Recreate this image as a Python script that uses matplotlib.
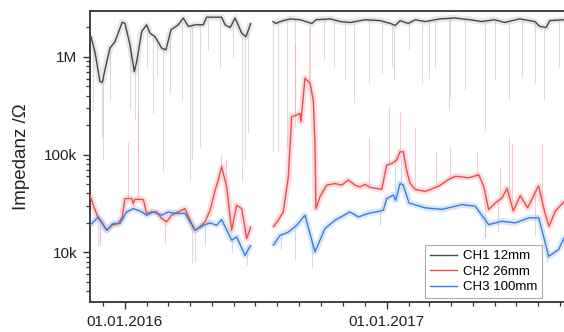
import numpy as np
import matplotlib
matplotlib.use("Agg")
import matplotlib.pyplot as plt
import matplotlib.dates as mdates
from matplotlib.ticker import LogLocator, FixedLocator, FixedFormatter, NullFormatter

# -----------------------------
#  Data (days since 01.01.2016, impedance in Ohm)
# -----------------------------
ch1_days = [-47.5, -42, -35, -31.7, -28, -21, -14, -3.8, 0, 7, 13, 16.4, 23.4, 30.3, 35,
            42, 51.3, 57.3, 64.3, 74.5, 81.5, 88.5, 98, 109.5, 114.3, 135.2, 140, 147,
            154, 163.2, 169.2, 175.8, 190,
            207, 211, 217, 231, 245, 261.5, 267, 287, 301, 315, 336, 357, 371, 378, 385,
            396, 406, 420, 440.5, 461.5, 482.5, 499, 517, 531, 552, 573, 580, 589, 594, 614, 630]
ch1_vals = [1.61e6, 1.13e6, 5.58e5, 5.5e5, 7.37e5, 1.23e6, 1.43e6, 2.27e6, 2.2e6, 1.33e6,
            7.07e5, 8.95e5, 1.82e6, 2.13e6, 1.75e6, 1.61e6, 1.23e6, 1.18e6, 1.89e6, 2.13e6,
            2.5e6, 2.05e6, 2.13e6, 2.13e6, 2.55e6, 2.55e6, 2.13e6, 2.0e6, 2.5e6, 1.75e6,
            1.61e6, 2.2e6, np.nan,
            2.3e6, 2.2e6, 2.3e6, 2.45e6, 2.4e6, 2.2e6, 2.4e6, 2.45e6, 2.3e6, 2.25e6, 2.4e6,
            2.35e6, 2.2e6, 2.1e6, 2.35e6, 2.2e6, 2.4e6, 2.3e6, 2.45e6, 2.5e6, 2.4e6, 2.3e6,
            2.4e6, 2.25e6, 2.45e6, 2.3e6, 2.05e6, 2.0e6, 2.35e6, 2.4e6, 2.4e6]

ch2_days = [-49, -44.3, -37.3, -32.6, -25.6, -18.6, -9.4, -3.8, 0, 9.4, 11.6, 14, 25.6,
            30.3, 37.3, 44.3, 51.3, 58.3, 65.3, 74.5, 84, 91, 98, 105, 112, 119, 126,
            130.5, 135.2, 142.2, 149.2, 156.2, 163.2, 170.2, 175.8, 190,
            207.4, 214.4, 221.4, 228.4, 233.1, 240.1, 244.7, 246.1, 251.7, 258.7, 263.3,
            265.7, 267, 272.7, 282.1, 293.7, 303.1, 312.3, 321.7, 328.6, 335.6, 342.6,
            359, 366, 373, 380, 384.6, 389.2, 393.9, 398.6, 406, 420, 438.7, 452.7, 462,
            480.7, 494.7, 501.6, 508.6, 517.9, 527.2, 534.2, 543, 552.8, 563.1, 578.3,
            587.4, 593, 601.8, 614, 630]
ch2_vals = [38.5e3, 30.3e3, 22.2e3, 20.5e3, 16.8e3, 18.9e3, 19.7e3, 23e3, 35.5e3, 35.5e3,
            31.5e3, 35e3, 34.7e3, 25e3, 25.9e3, 25.9e3, 22.2e3, 20.5e3, 24e3, 25.9e3, 28e3,
            21.3e3, 16.8e3, 18.2e3, 20.5e3, 26.9e3, 43e3, 55e3, 75e3, 46.7e3, 16.8e3,
            30.3e3, 28e3, 13.8e3, 18.2e3, np.nan,
            18.2e3, 21.3e3, 25.9e3, 59e3, 244e3, 254e3, 264e3, 217e3, 605e3, 538e3, 363e3,
            130e3, 28e3, 37e3, 48.7e3, 50.6e3, 48.7e3, 55e3, 48.7e3, 46.7e3, 49.5e3,
            46.3e3, 44.1e3, 78e3, 81e3, 88e3, 107e3, 107e3, 69e3, 50.6e3, 44e3, 42e3,
            47.5e3, 55.7e3, 60e3, 58e3, 62e3, 47.5e3, 27.4e3, 32e3, 36e3, 45e3, 26.5e3,
            38e3, 28.5e3, 48e3, 25e3, 18.5e3, 26.4e3, 33e3, 40e3]

ch3_days = [-49, -37.3, -25.6, -16.4, -7, 2.4, 11.6, 21, 30.3, 39.6, 51.3, 60.6, 70, 84,
            98, 109.5, 119, 128.2, 135.2, 149.2, 156.2, 167.8, 175.8, 190,
            207.4, 216.8, 228.4, 240.1, 251.7, 258.7, 265.7, 279.7, 293.7, 314.7, 326.3,
            340.3, 361.2, 366, 375.3, 378.7, 384.6, 389.2, 397.2, 420, 443.4, 471.3,
            489.9, 508.6, 527.2, 545.8, 564.6, 578.6, 592.5, 606.5, 614, 630]
ch3_vals = [18.9e3, 23e3, 16.8e3, 19.7e3, 19.7e3, 25.9e3, 28e3, 26.5e3, 24e3, 25.9e3,
            24e3, 25.9e3, 25e3, 25e3, 16.8e3, 18.9e3, 20e3, 18.9e3, 21.6e3, 13.3e3,
            14.4e3, 9.3e3, 11.8e3, np.nan,
            11.8e3, 14.9e3, 16.1e3, 18.9e3, 24e3, 15.5e3, 10.1e3, 17.5e3, 21.3e3, 25.9e3,
            23e3, 25e3, 26.9e3, 35.5e3, 38.5e3, 34e3, 50.6e3, 48.7e3, 32e3, 28.5e3,
            27.5e3, 30.8e3, 29.6e3, 19.2e3, 20.8e3, 20e3, 22.5e3, 22.5e3, 9.1e3, 10.7e3,
            14e3, 19e3]

# single raw excursions (day, tip value)
ch1_spike_days = [-44.3, -32.6, -30.3, -21, 7, 14, 18.6, 30.3, 39, 44.3, 53, 63, 79.3,
                  91, 93.3, 105, 116.5, 133, 151.5, 164, 168, 172.5,
                  207.4, 214.4, 226.6, 238, 259, 278, 292, 308, 320, 341, 359, 373.4,
                  375.8, 396.7, 415, 425, 434, 452.7, 455, 476, 504, 518, 536.6, 555,
                  574, 585.5, 606.5]
ch1_spike_vals = [286e3, 151e3, 88e3, 362e3, 286e3, 226e3, 104e3, 789e3, 265e3, 623e3,
                  66e3, 427e3, 362e3, 55e3, 88e3, 119e3, 1.17e6, 789e3, 1.0e6, 52e3,
                  88e3, 166e3,
                  110e3, 110e3, 119e3, 191e3, 362e3, 930e3, 789e3, 580e3, 337e3, 540e3,
                  685e3, 789e3, 580e3, 1.17e6, 540e3, 600e3, 789e3, 286e3, 389e3, 458e3,
                  178e3, 580e3, 362e3, 623e3, 540e3, 362e3, 789e3]

ch2_spike_days = [-38, -35, 4.2, 18.2, 56, 94, 134, 141, 238, 257, 341, 369, 384.6, 406,
                  435, 454, 491.7, 503.5, 522, 525, 537, 541.7, 573, 583]
ch2_spike_vals = [11.5e3, 12e3, 134e3, 286e3, 12.4e3, 7.7e3, 98e3, 90e3, 1.4e6, 2.0e6,
                  150e3, 306e3, 270e3, 190e3, 110e3, 120e3, 110e3, 14e3, 16e3, 74e3,
                  150e3, 130e3, 15e3, 130e3]

ch3_spike_days = [-35, 98, 112, 150, 170, 218, 238, 261.5, 356, 378, 386, 503.5, 590]
ch3_spike_vals = [13e3, 7.9e3, 12e3, 10e3, 7.4e3, 10.5e3, 8.3e3, 7.1e3, 19e3, 100e3,
                  90e3, 14e3, 7.7e3]

labels = ["CH1 12mm", "CH2 26mm", "CH3 100mm"]
dark_colors = ["#474747", "#ef4a4e", "#3c7ddc"]
light_colors = ["#c4c4c4", "#f7aaad", "#9cc6f3"]

t0 = mdates.date2num(np.datetime64("2016-01-01"))


def to_x(days):
    return t0 + np.asarray(days, dtype=float)


def spike_base(days, ser_days, ser_vals):
    d = np.asarray(ser_days, dtype=float)
    v = np.log10(np.asarray(ser_vals, dtype=float))
    ok = ~np.isnan(v)
    return 10 ** np.interp(days, d[ok], v[ok])


# -----------------------------
#  Plot
# -----------------------------
plt.rcParams["font.family"] = ["Liberation Sans", "DejaVu Sans"]

fig = plt.figure(figsize=(5.64, 3.32), dpi=100)
ax = fig.add_axes([89.5 / 564, 1 - 302 / 332, (575 - 89.5) / 564, (302 - 11) / 332])

series = [(ch1_days, ch1_vals, ch1_spike_days, ch1_spike_vals),
          (ch2_days, ch2_vals, ch2_spike_days, ch2_spike_vals),
          (ch3_days, ch3_vals, ch3_spike_days, ch3_spike_vals)]

# raw traces (light)
for (d, v, sd, sv), lc in zip(series, light_colors):
    ax.plot(to_x(d), v, color=lc, lw=4.5, alpha=0.4, solid_capstyle="butt", zorder=1)
    base = spike_base(sd, d, v)
    ax.vlines(to_x(sd), np.minimum(base, sv), np.maximum(base, sv),
              color=lc, lw=0.8, alpha=0.6, zorder=1)

# smoothed traces
for (d, v, sd, sv), dc, lab in zip(series, dark_colors, labels):
    ax.plot(to_x(d), v, color=dc, lw=1.0, label=lab, zorder=3)

ax.set_yscale("log")
ax.set_ylim(3.1e3, 2.95e6)
ax.set_xlim(t0 - 49.6, t0 + 629.3)

ax.yaxis.set_major_locator(FixedLocator([1e4, 1e5, 1e6]))
ax.yaxis.set_major_formatter(FixedFormatter(["10k", "100k", "1M"]))
ax.yaxis.set_minor_locator(LogLocator(base=10, subs=np.arange(2, 10), numticks=20))
ax.yaxis.set_minor_formatter(NullFormatter())

ax.xaxis.set_major_locator(mdates.YearLocator(month=1, day=1))
ax.xaxis.set_major_formatter(mdates.DateFormatter("%d.%m.%Y"))
ax.xaxis.set_minor_locator(mdates.MonthLocator())

ax.tick_params(which="major", direction="out", length=5, width=1.0, labelsize=11,
               pad=4, color="#333333", labelcolor="#222222")
ax.tick_params(which="minor", direction="out", length=3, width=0.9, color="#333333")

for side in ["top", "left", "bottom"]:
    ax.spines[side].set_linewidth(1.3)
    ax.spines[side].set_color("#333333")
ax.spines["right"].set_visible(False)

ax.set_ylabel("Impedanz /\u03a9", fontsize=13.5, labelpad=10, color="#222222")

leg = ax.legend(loc="lower left", bbox_to_anchor=(425 / 564, 1 - 298 / 332),
                bbox_transform=fig.transFigure, fontsize=9.5, frameon=True,
                fancybox=False, handlelength=2.1, handletextpad=0.4,
                borderpad=0.35, labelspacing=0.25, borderaxespad=0)
leg.get_frame().set_edgecolor("#9a9a9a")
leg.get_frame().set_linewidth(0.8)

fig.savefig("out.png", dpi=100)
